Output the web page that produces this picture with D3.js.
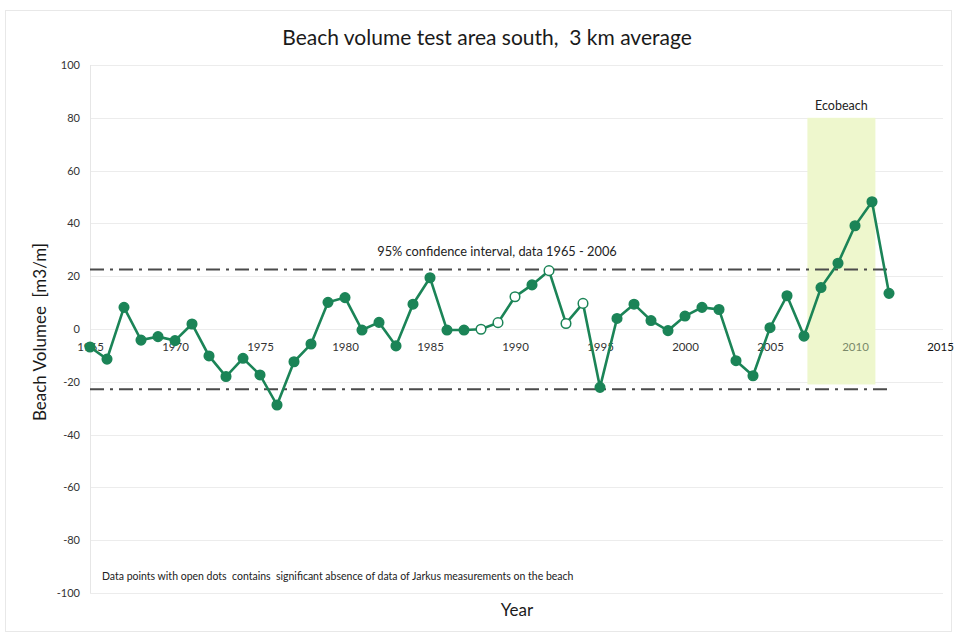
<!DOCTYPE html>
<html>
<head>
<meta charset="utf-8">
<script src="https://cdn.jsdelivr.net/npm/d3@7/dist/d3.min.js"></script>
<style>
  html, body { margin: 0; padding: 0; background: #fff; }
  svg { display: block; font-family: Lato, "Open Sans", sans-serif; }
  svg text { white-space: pre; }
</style>
</head>
<body>
<svg id="chart" width="958" height="635"></svg>
<script>
// ---- data ----
const years = [1965,1966,1967,1968,1969,1970,1971,1972,1973,1974,1975,1976,1977,1978,1979,1980,
  1981,1982,1983,1984,1985,1986,1987,1988,1989,1990,1991,1992,1993,1994,1995,1996,1997,1998,1999,
  2000,2001,2002,2003,2004,2005,2006,2007,2008,2009,2010,2011,2012];
const volumes = [-6.8,-11.4,8.2,-4.2,-2.9,-4.4,1.9,-10.2,-18,-11.1,-17.4,-28.8,-12.4,-5.7,10.1,11.9,
  -0.4,2.5,-6.4,9.4,19.4,-0.4,-0.4,-0.1,2.4,12.2,16.7,22.1,2.1,9.7,-22.1,4.0,9.4,3.2,-0.6,
  4.9,8.2,7.4,-12,-17.7,0.5,12.6,-2.7,15.7,24.9,39.1,48.2,13.5];
const openYears = [1988,1989,1990,1992,1993,1994];
const xTicks = [1965,1970,1975,1980,1985,1990,1995,2000,2005,2010,2015];
const yTicks = [-100,-80,-60,-40,-20,0,20,40,60,80,100];
const confUpper = 22.5, confLower = -22.8;
const confRange = [1965, 2012];
const ecoRange = [2007.2, 2011.2];
const ecoVals = [80, -21];

const svg = d3.select("#chart");
const x = d3.scaleLinear().domain([1965, 2015]).range([90, 940]);
const y = d3.scaleLinear().domain([-100, 100]).range([593, 65]);

// outer border
svg.append("rect").attr("x", 5.5).attr("y", 10.5).attr("width", 946).attr("height", 621)
  .attr("fill", "none").attr("stroke", "#e8e8e8").attr("stroke-width", 1);

// gridlines
svg.append("g").selectAll("line").data(yTicks).join("line")
  .attr("x1", x(1965)).attr("x2", x(2015) + 3)
  .attr("y1", d => Math.round(y(d)) + 0.5).attr("y2", d => Math.round(y(d)) + 0.5)
  .attr("stroke", "#ececec").attr("stroke-width", 1);

// vertical axis line
svg.append("line").attr("x1", x(1965) + 0.5).attr("x2", x(1965) + 0.5)
  .attr("y1", y(100)).attr("y2", y(-100)).attr("stroke", "#e6e6e6");

// ecobeach shading
svg.append("rect")
  .attr("x", x(ecoRange[0])).attr("width", x(ecoRange[1]) - x(ecoRange[0]))
  .attr("y", y(ecoVals[0])).attr("height", y(ecoVals[1]) - y(ecoVals[0]))
  .attr("fill", "#eef7cd");

svg.append("text").attr("x", (x(ecoRange[0]) + x(ecoRange[1])) / 2).attr("y", 110)
  .attr("text-anchor", "middle").attr("font-size", 12.5).attr("fill", "#222").text("Ecobeach");

// y axis
const yAxis = d3.axisLeft(y).tickValues(yTicks).tickFormat(d => String(d)).tickSize(0).tickPadding(0);
const gy = svg.append("g").attr("transform", "translate(80,0)").call(yAxis);
gy.select(".domain").remove();
gy.selectAll("text").attr("font-size", 11).attr("fill", "#333")
  .attr("font-family", "Lato, sans-serif");

// x axis (crossing at 0)
const xAxis = d3.axisBottom(x).tickValues(xTicks).tickFormat(d => String(d)).tickSize(0).tickPadding(14);
const gx = svg.append("g").attr("transform", `translate(0,${y(0)})`).call(xAxis);
gx.select(".domain").remove();
gx.selectAll("text").attr("font-size", 11.5).attr("fill", "#333")
  .attr("font-family", "Lato, sans-serif");
gx.selectAll("text").filter(d => d === 2015).attr("fill", "#111");
gx.selectAll("text").filter(d => d === 2010).attr("fill", "#7a8a6a");

// confidence lines
[confUpper, confLower].forEach(v => {
  svg.append("line")
    .attr("x1", x(confRange[0])).attr("x2", x(confRange[1]))
    .attr("y1", y(v)).attr("y2", y(v))
    .attr("stroke", "#4a4a4a").attr("stroke-width", 2)
    .attr("stroke-dasharray", "14,6,3,6");
});
svg.append("text").attr("x", 497).attr("y", 256).attr("text-anchor", "middle")
  .attr("font-size", 12.8).attr("fill", "#222").text("95% confidence interval, data 1965 - 2006");

// line
const data = years.map((yr, i) => ({ yr, v: volumes[i], open: openYears.includes(yr) }));
svg.append("path").datum(data)
  .attr("d", d3.line().x(d => x(d.yr)).y(d => y(d.v)))
  .attr("fill", "none").attr("stroke", "#1b8457").attr("stroke-width", 2.6);

svg.append("g").selectAll("circle").data(data).join("circle")
  .attr("cx", d => x(d.yr)).attr("cy", d => y(d.v)).attr("r", 4.8)
  .attr("fill", d => d.open ? "#fff" : "#1b8457")
  .attr("stroke", "#1b8457").attr("stroke-width", 1.5);

// titles
svg.append("text").attr("x", 487).attr("y", 45).attr("text-anchor", "middle")
  .attr("font-size", 21).attr("fill", "#1a1a1a").text("Beach volume test area south,  3 km average");

svg.append("text").attr("transform", "translate(46,332) rotate(-90)").attr("text-anchor", "middle")
  .attr("font-size", 17).attr("fill", "#1a1a1a").text("Beach Volumee  [m3/m]");

svg.append("text").attr("x", 517).attr("y", 616).attr("text-anchor", "middle")
  .attr("font-size", 17).attr("fill", "#1a1a1a").text("Year");

svg.append("text").attr("x", 102).attr("y", 580)
  .attr("font-size", 10.5).attr("fill", "#222")
  .text("Data points with open dots  contains  significant absence of data of Jarkus measurements on the beach");
</script>
</body>
</html>
